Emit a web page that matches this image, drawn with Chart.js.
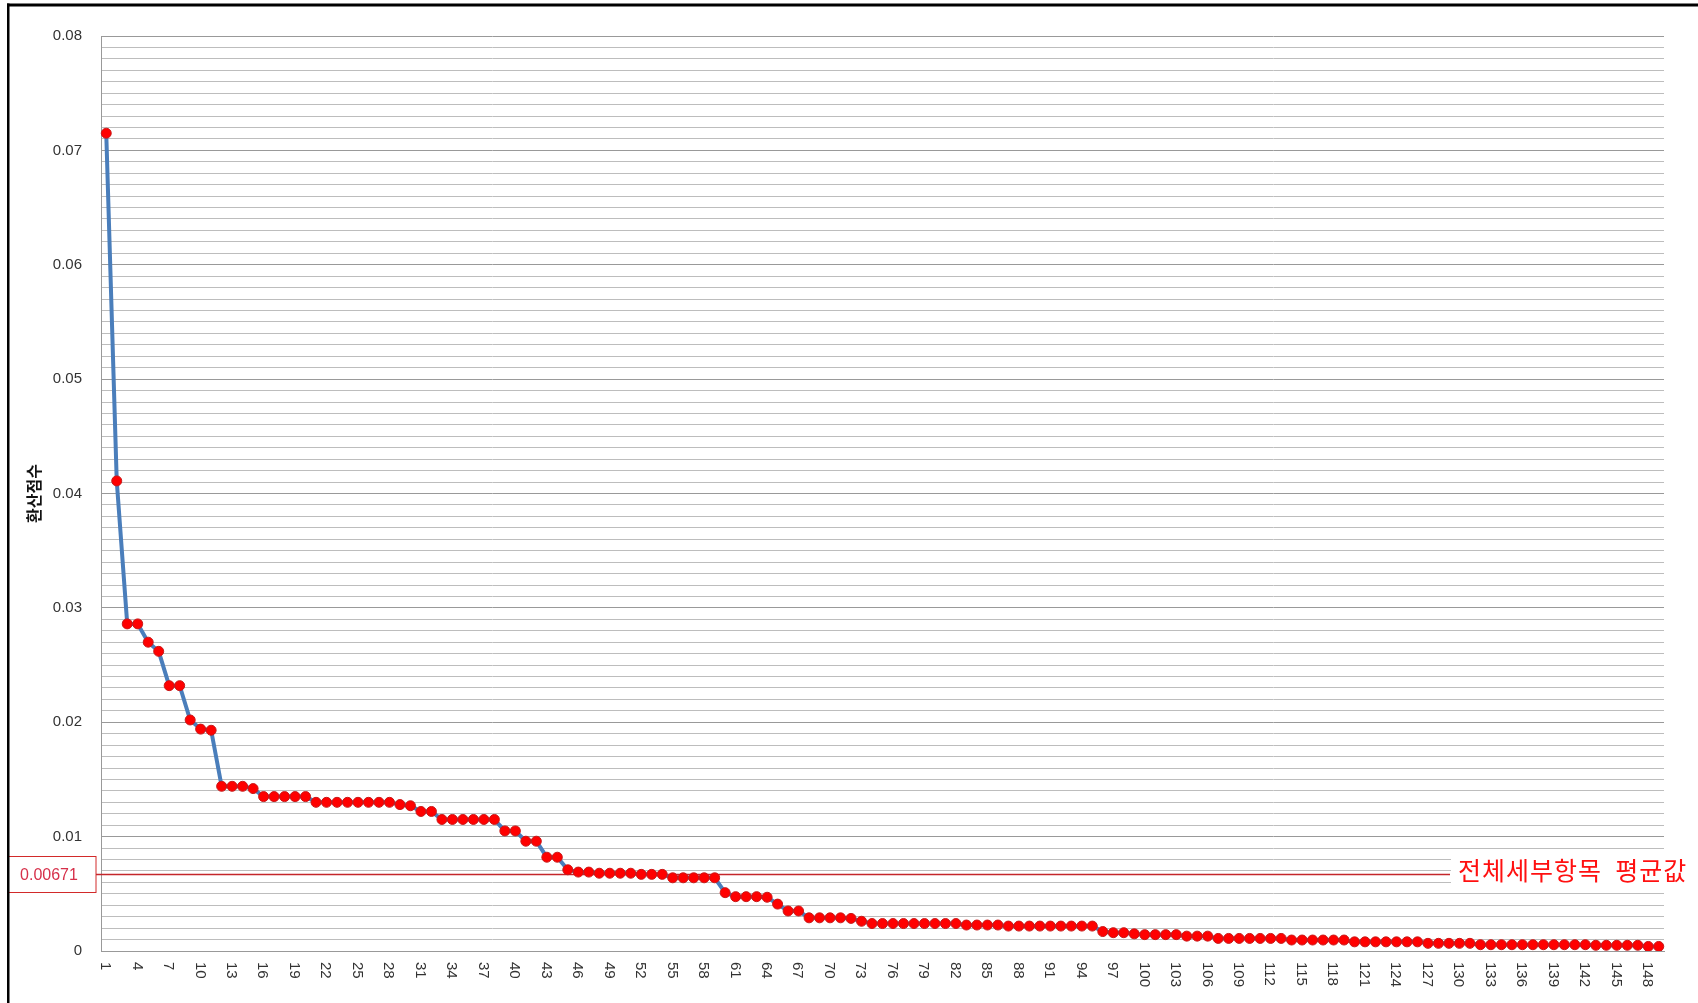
<!DOCTYPE html>
<html>
<head>
<meta charset="utf-8">
<script src="https://cdn.jsdelivr.net/npm/chart.js@4.4.0/dist/chart.umd.min.js"></script>
<style>
html,body{margin:0;padding:0;background:#fff;}
#wrap{width:1698px;height:1003px;position:relative;background:#fff;}
</style>
</head>
<body>
<div id="wrap"><canvas id="c" width="1698" height="1003"></canvas></div>
<script>
// ---- data ----
const categories = Array.from({length: 149}, (_, i) => String(i + 1));

const scores = [
  0.0715,0.0411,0.0286,0.0286,0.0270,0.0262,0.0232,0.0232,0.0202,0.0194,
  0.0193,0.0144,0.0144,0.0144,0.0142,0.0135,0.0135,0.0135,0.0135,0.0135,
  0.0130,0.0130,0.0130,0.0130,0.0130,0.0130,0.0130,0.0130,0.0128,0.0127,
  0.0122,0.0122,0.0115,0.0115,0.0115,0.0115,0.0115,0.0115,0.0105,0.0105,
  0.0096,0.0096,0.0082,0.0082,0.0071,0.0069,0.0069,0.0068,0.0068,0.0068,
  0.0068,0.0067,0.0067,0.0067,0.0064,0.0064,0.0064,0.0064,0.0064,0.0051,
  0.00475,0.00475,0.00475,0.0047,0.0041,0.0035,0.0035,0.0029,0.0029,0.0029,
  0.0029,0.00285,0.0026,0.0024,0.0024,0.0024,0.0024,0.0024,0.0024,0.0024,
  0.0024,0.0024,0.00227,0.00227,0.00227,0.00227,0.00218,0.00218,0.00218,0.00218,
  0.00218,0.00218,0.00218,0.00218,0.00218,0.0017,0.0016,0.0016,0.0015,0.00143,
  0.00143,0.00143,0.00143,0.0013,0.0013,0.0013,0.0011,0.0011,0.0011,0.0011,
  0.0011,0.0011,0.0011,0.00096,0.00096,0.00096,0.00096,0.00096,0.00096,0.0008,
  0.0008,0.0008,0.0008,0.0008,0.0008,0.0008,0.00067,0.00067,0.00067,0.00067,
  0.00067,0.00055,0.00055,0.00055,0.00055,0.00055,0.00055,0.00055,0.00055,0.00055,
  0.00055,0.00055,0.0005,0.0005,0.0005,0.0005,0.0005,0.0004,0.0004
];

const shownXTickLabels = ['1','4','7','10','13','16','19','22','25','28','31','34','37','40','43','46','49',
  '52','55','58','61','64','67','70','73','76','79','82','85','88','91','94','97','100','103','106','109',
  '112','115','118','121','124','127','130','133','136','139','142','145','148'];

const yTickLabels = ['0','0.01','0.02','0.03','0.04','0.05','0.06','0.07','0.08'];

const meanValue = 0.00671;
const meanBoxLabel = '0.00671';
const meanText = '전체세부항목  평균값';
const yTitle = '환산점수';

// ---- plugins ----
const LATIN = "'Liberation Sans', Arial, sans-serif";
const KR = "'Noto Sans CJK KR', 'Noto Sans', sans-serif";

const meanPlugin = {
  id: 'meanLine',
  beforeDatasetsDraw(chart) {
    const {ctx, scales: {y}} = chart;
    const py = Math.round(y.getPixelForValue(meanValue)) + 0.5;
    ctx.save();
    // line
    ctx.strokeStyle = '#c4262b';
    ctx.lineWidth = 1.3;
    ctx.beginPath();
    ctx.moveTo(96, py);
    ctx.lineTo(1450, py);
    ctx.stroke();
    // right label background and text
    ctx.fillStyle = '#ffffff';
    ctx.fillRect(1451, py - 23, 247, 40);
    ctx.fillStyle = '#ff1010';
    ctx.font = "25px " + KR;
    try { ctx.letterSpacing = '1px'; } catch (e) {}
    ctx.textAlign = 'left';
    ctx.textBaseline = 'middle';
    ctx.fillText(meanText, 1458, py - 4);
    try { ctx.letterSpacing = '0px'; } catch (e) {}
    // left box
    ctx.fillStyle = '#ffffff';
    ctx.fillRect(9, py - 18, 87, 36);
    ctx.strokeStyle = '#d22a2a';
    ctx.lineWidth = 1;
    ctx.strokeRect(8.5, py - 18, 87.5, 36);
    ctx.fillStyle = '#d6304a';
    ctx.font = "16px " + LATIN;
    ctx.textAlign = 'center';
    ctx.fillText(meanBoxLabel, 49, py + 1);
    ctx.restore();
  }
};

const xLabelPlugin = {
  id: 'xLabels',
  afterDraw(chart) {
    const {ctx, scales: {x}} = chart;
    ctx.save();
    ctx.font = "15px " + LATIN;
    ctx.fillStyle = '#333333';
    ctx.textAlign = 'left';
    ctx.textBaseline = 'middle';
    shownXTickLabels.forEach(lbl => {
      const idx = categories.indexOf(lbl);
      const px = x.getPixelForValue(idx);
      ctx.save();
      ctx.translate(px - 1, x.top + 11);
      ctx.rotate(Math.PI / 2);
      ctx.fillText(lbl, 0, 0);
      ctx.restore();
    });
    ctx.restore();
  }
};

const framePlugin = {
  id: 'frame',
  afterDraw(chart) {
    const {ctx} = chart;
    ctx.save();
    ctx.fillStyle = '#000000';
    ctx.fillRect(7, 3.5, 1691, 3);
    ctx.fillRect(7, 3.5, 2.5, 1000);
    ctx.restore();
  }
};

// ---- chart ----
new Chart(document.getElementById('c'), {
  type: 'line',
  data: {
    labels: categories,
    datasets: [{
      data: scores,
      borderColor: '#4a7ebb',
      borderWidth: 4,
      pointBackgroundColor: '#ff0000',
      pointBorderColor: '#c81818',
      pointBorderWidth: 1,
      pointRadius: 5,
      pointHoverRadius: 5,
      tension: 0,
      fill: false
    }]
  },
  options: {
    responsive: false,
    animation: false,
    events: [],
    layout: {padding: {left: 0, right: 34, top: 36, bottom: 0}},
    plugins: {legend: {display: false}, tooltip: {enabled: false}},
    scales: {
      x: {
        type: 'category',
        offset: true,
        grid: {display: false, drawTicks: false},
        border: {display: true, color: '#999999', width: 1},
        ticks: {display: false},
        afterFit(s) { s.height = 52; }
      },
      y: {
        min: 0,
        max: 0.08,
        ticks: {
          stepSize: 0.001,
          maxTicksLimit: 200,
          autoSkip: false,
          padding: 19,
          color: '#333333',
          font: {size: 15, family: LATIN},
          callback(v) {
            const r = Math.round(v * 1000);
            return r % 10 === 0 ? yTickLabels[r / 10] : '';
          }
        },
        grid: {
          drawTicks: false,
          lineWidth: 1,
          color(c) {
            if (!c.tick) return '#c0c0c0';
            const r = Math.round(c.tick.value * 1000);
            return r % 10 === 0 ? '#999999' : '#bdbdbd';
          }
        },
        border: {display: true, color: '#999999', width: 1},
        title: {
          display: true,
          text: yTitle,
          color: '#111111',
          font: {size: 16, weight: 'bold', family: KR},
          padding: {top: 24, bottom: 0}
        },
        afterFit(s) { s.width = 101; }
      }
    }
  },
  plugins: [meanPlugin, xLabelPlugin, framePlugin]
});
</script>
</body>
</html>
